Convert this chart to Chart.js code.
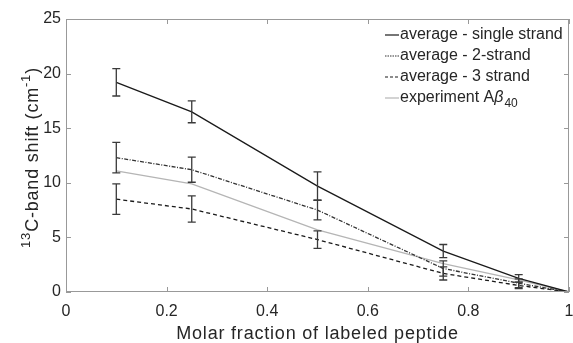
<!DOCTYPE html>
<html>
<head>
<meta charset="utf-8">
<script src="https://cdn.jsdelivr.net/npm/chart.js@4.4.0/dist/chart.umd.min.js"></script>
<style>
  html, body { margin: 0; padding: 0; background: #fff; }
  #wrap { width: 573px; height: 343px; }
</style>
</head>
<body>
<div id="wrap"><canvas id="myChart"></canvas></div>
<script>
// Molar fraction of labeled peptide (x positions of every series)
const fractions = [0.1, 0.25, 0.5, 0.75, 0.9, 1.0];

// 13C-band shift in cm^-1, with half-widths of the error bars
const singleStrand    = [19.2, 16.5, 9.7, 3.75, 1.25, 0];
const singleStrandErr = [1.25, 1.0, 1.3, 0.6, 0.35, 0];
const twoStrand       = [12.3, 11.2, 7.5, 2.15, 0.8, 0];
const twoStrandErr    = [1.4, 1.15, 0.9, 0.7, 0.4, 0];
const threeStrand     = [8.5, 7.6, 4.8, 1.7, 0.6, 0];
const threeStrandErr  = [1.4, 1.2, 0.8, 0.6, 0.3, 0];
const experiment      = [11.1, 9.9, 5.7, 2.6, 1.1, 0];

const xTicks = [0, 0.2, 0.4, 0.6, 0.8, 1];
const yTicks = [0, 5, 10, 15, 20, 25];

const FONT = '"Liberation Sans", Arial, Helvetica, sans-serif';
const TEXT_COLOR = '#262626';
const AXIS_COLOR = '#999999';

function points(values) {
    return fractions.map((x, i) => ({ x: x, y: values[i] }));
}

const seriesList = [
    { label: 'average - single strand', values: singleStrand, err: singleStrandErr, color: '#1a1a1a', dash: [], keyDash: [] },
    { label: 'average - 2-strand', values: twoStrand, err: twoStrandErr, color: '#333333', dash: [4, 1.5, 1, 1.5], keyDash: [1.5, 1] },
    { label: 'average - 3 strand', values: threeStrand, err: threeStrandErr, color: '#1a1a1a', dash: [4, 3], keyDash: [3, 2] },
    { label: 'experiment', values: experiment, err: null, color: '#b5b5b5', dash: [], keyDash: [] }
];

// vertical error bars with small caps, drawn through the chart scales
const errorBarPlugin = {
    id: 'errorBars',
    afterDatasetsDraw(chart) {
        const ctx = chart.ctx;
        const xs = chart.scales.x, ys = chart.scales.y;
        ctx.save();
        ctx.strokeStyle = '#3a3a3a';
        ctx.lineWidth = 1.3;
        seriesList.forEach(s => {
            if (!s.err) return;
            fractions.forEach((f, i) => {
                if (!s.err[i]) return;
                const px = xs.getPixelForValue(f);
                const top = ys.getPixelForValue(s.values[i] + s.err[i]);
                const bot = ys.getPixelForValue(s.values[i] - s.err[i]);
                ctx.beginPath();
                ctx.moveTo(px, top); ctx.lineTo(px, bot);
                ctx.moveTo(px - 4, top); ctx.lineTo(px + 4, top);
                ctx.moveTo(px - 4, bot); ctx.lineTo(px + 4, bot);
                ctx.stroke();
            });
        });
        ctx.restore();
    }
};

// box around the plot with inward ticks on all four sides
const frameTicksPlugin = {
    id: 'frameTicks',
    afterDraw(chart) {
        const ctx = chart.ctx;
        const a = chart.chartArea;
        const xs = chart.scales.x, ys = chart.scales.y;
        ctx.save();
        ctx.strokeStyle = AXIS_COLOR;
        ctx.lineWidth = 1;
        ctx.strokeRect(a.left + 0.5, a.top + 0.5, a.right - a.left - 1, a.bottom - a.top - 1);
        ctx.beginPath();
        xTicks.forEach(v => {
            const px = Math.round(xs.getPixelForValue(v)) + 0.5;
            ctx.moveTo(px, a.bottom); ctx.lineTo(px, a.bottom - 5);
            ctx.moveTo(px, a.top); ctx.lineTo(px, a.top + 5);
        });
        yTicks.forEach(v => {
            const py = Math.round(ys.getPixelForValue(v)) + 0.5;
            ctx.moveTo(a.left, py); ctx.lineTo(a.left + 5, py);
            ctx.moveTo(a.right, py); ctx.lineTo(a.right - 5, py);
        });
        ctx.stroke();
        ctx.restore();
    }
};

// axis titles with superscripts, and the legend in the upper right corner
const labelsPlugin = {
    id: 'labels',
    afterDraw(chart) {
        const ctx = chart.ctx;
        const a = chart.chartArea;
        ctx.save();
        ctx.fillStyle = TEXT_COLOR;

        // x title
        ctx.letterSpacing = '0.8px';
        ctx.font = '18px ' + FONT;
        ctx.textAlign = 'center';
        ctx.textBaseline = 'alphabetic';
        ctx.fillText('Molar fraction of labeled peptide', (a.left + a.right) / 2, 339);

        // y title, rotated
        const parts = [
            { t: '13', sup: true },
            { t: 'C-band shift (cm', sup: false },
            { t: '-1', sup: true },
            { t: ')', sup: false }
        ];
        let total = 0;
        parts.forEach(p => {
            ctx.font = (p.sup ? '13px ' : '18px ') + FONT;
            p.w = ctx.measureText(p.t).width;
            total += p.w;
        });
        ctx.translate(38, (a.top + a.bottom) / 2 + 2);
        ctx.rotate(-Math.PI / 2);
        ctx.textAlign = 'left';
        let cx = -total / 2;
        parts.forEach(p => {
            ctx.font = (p.sup ? '13px ' : '18px ') + FONT;
            ctx.fillText(p.t, cx, p.sup ? -8 : 0);
            cx += p.w;
        });
        ctx.setTransform(1, 0, 0, 1, 0, 0);
        ctx.letterSpacing = '0px';

        // legend
        const rowY = [35, 56, 77, 98];
        const lineX0 = 385, lineX1 = 399, textX = 400;
        ctx.textBaseline = 'middle';
        seriesList.forEach((s, i) => {
            ctx.strokeStyle = s.color;
            ctx.lineWidth = 1.2;
            ctx.setLineDash(s.keyDash);
            ctx.beginPath();
            ctx.moveTo(lineX0, rowY[i]); ctx.lineTo(lineX1, rowY[i]);
            ctx.stroke();
            ctx.setLineDash([]);
            ctx.font = '16px ' + FONT;
            ctx.fillStyle = TEXT_COLOR;
            ctx.fillText(s.label, textX, rowY[i]);
            if (i === 3) {
                // "experiment Aβ40"
                ctx.fillText(' A', textX + ctx.measureText(s.label).width, rowY[i]);
                let x = textX + ctx.measureText(s.label + ' A').width;
                ctx.font = 'italic 16px ' + FONT;
                ctx.fillText('β', x, rowY[i]);
                x += ctx.measureText('β').width + 1;
                ctx.font = '12px ' + FONT;
                ctx.fillText('40', x, rowY[i] + 6);
            }
        });
        ctx.restore();
    }
};

const ctx = document.getElementById('myChart').getContext('2d');
const myChartInstance = new Chart(ctx, {
    type: 'line',
    data: {
        datasets: seriesList.map(s => ({
            label: s.label,
            data: points(s.values),
            borderColor: s.color,
            borderWidth: 1.3,
            borderDash: s.dash,
            pointRadius: 0,
            tension: 0,
            fill: false
        }))
    },
    options: {
        responsive: true,
        maintainAspectRatio: false,
        animation: false,
        devicePixelRatio: 1,
        layout: { padding: { top: 19, right: 4, left: 0, bottom: 0 } },
        plugins: {
            legend: { display: false },
            tooltip: { enabled: false }
        },
        scales: {
            x: {
                type: 'linear',
                min: 0,
                max: 1,
                afterBuildTicks: scale => { scale.ticks = xTicks.map(v => ({ value: v })); },
                afterFit: scale => {
                    scale.height = 51;
                    scale.paddingLeft = 0;
                    scale.paddingRight = 0;
                },
                grid: { display: false, drawTicks: false },
                border: { display: false },
                ticks: {
                    color: TEXT_COLOR,
                    font: { family: FONT, size: 16 },
                    padding: 10,
                    maxRotation: 0,
                    callback: v => (v === 0 || v === 1) ? String(v) : v.toFixed(1)
                }
            },
            y: {
                min: 0,
                max: 25,
                afterBuildTicks: scale => { scale.ticks = yTicks.map(v => ({ value: v })); },
                afterFit: scale => {
                    scale.width = 66;
                    scale.paddingTop = 0;
                    scale.paddingBottom = 0;
                },
                grid: { display: false, drawTicks: false },
                border: { display: false },
                ticks: {
                    color: TEXT_COLOR,
                    font: { family: FONT, size: 16 },
                    padding: 5
                }
            }
        }
    },
    plugins: [errorBarPlugin, frameTicksPlugin, labelsPlugin]
});
</script>
</body>
</html>
